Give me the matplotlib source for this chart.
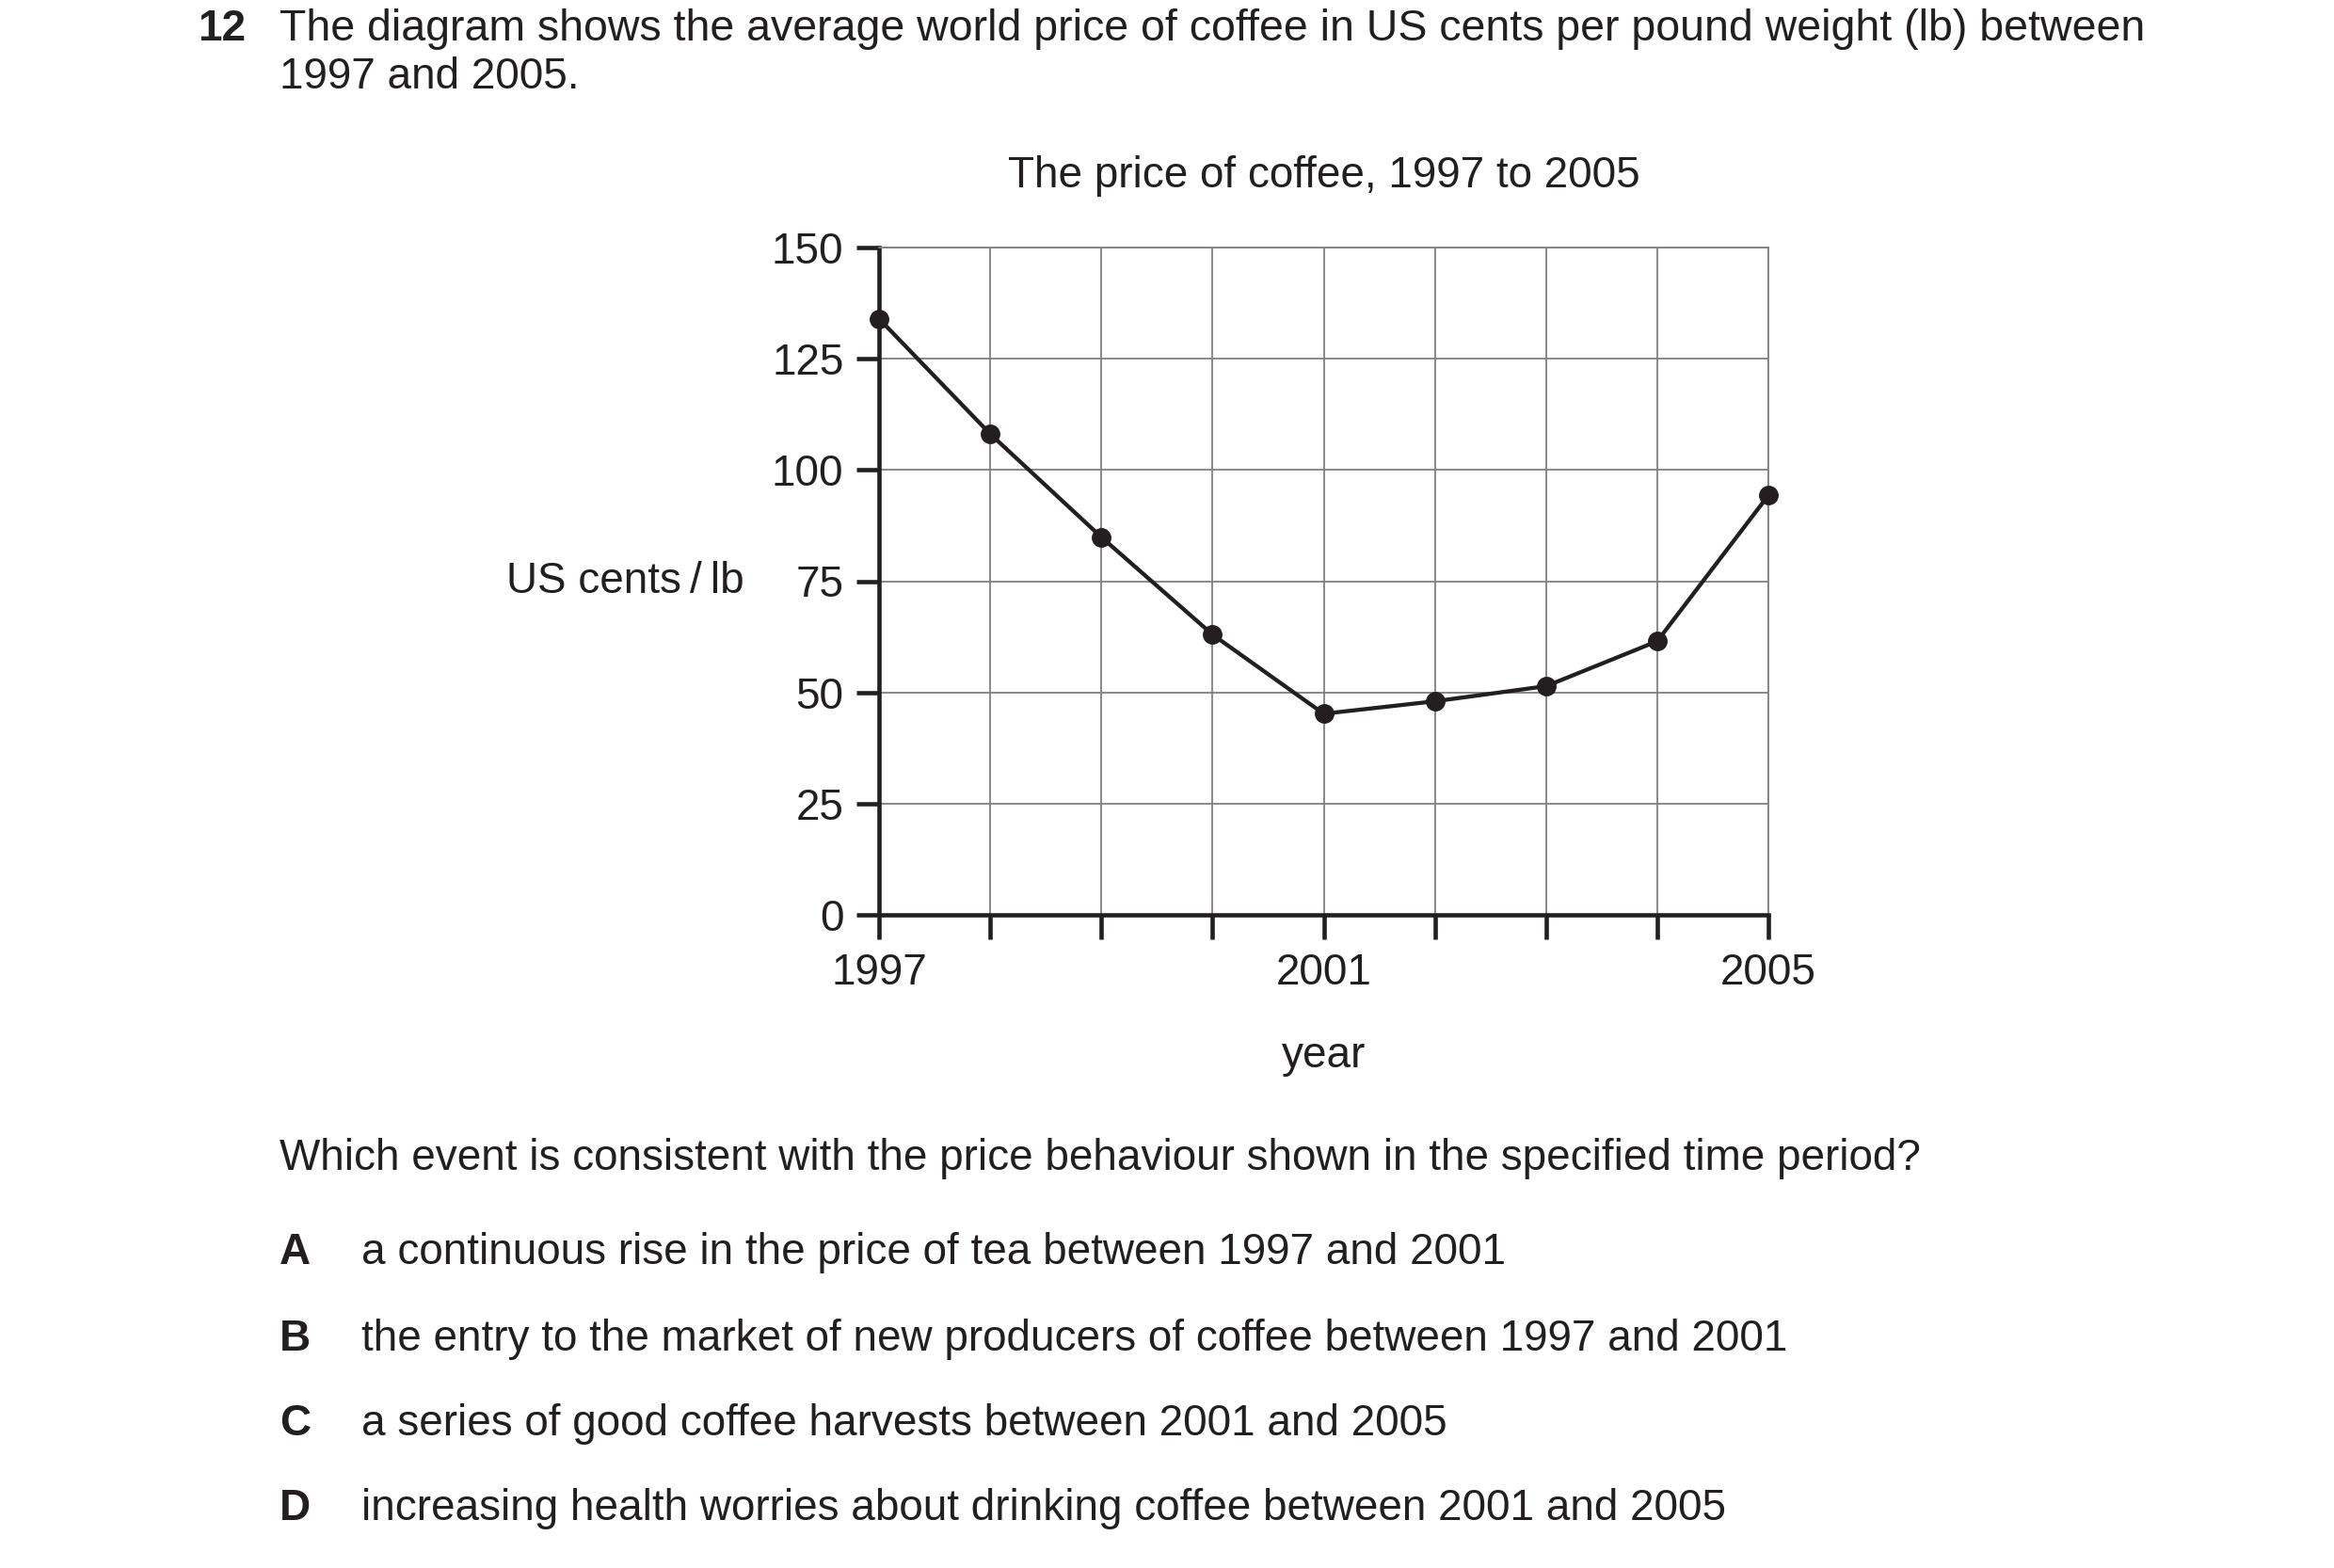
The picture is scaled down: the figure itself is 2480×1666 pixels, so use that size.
import matplotlib
matplotlib.use('Agg')
import matplotlib.pyplot as plt

# data
years = [1997, 1998, 1999, 2000, 2001, 2002, 2003, 2004, 2005]
price = [134.0, 108.1, 84.9, 63.0, 45.2, 48.0, 51.4, 61.5, 94.3]
year_labels = ['1997', '', '', '', '2001', '', '', '', '2005']
price_ticks = [0, 25, 50, 75, 100, 125, 150]

question = ('The diagram shows the average world price of coffee in US cents per pound weight (lb) between',
            '1997 and 2005.')
prompt = 'Which event is consistent with the price behaviour shown in the specified time period?'
options = ['A', 'B', 'C', 'D']
answers = ['a continuous rise in the price of tea between 1997 and 2001',
           'the entry to the market of new producers of coffee between 1997 and 2001',
           'a series of good coffee harvests between 2001 and 2005',
           'increasing health worries about drinking coffee between 2001 and 2005']

plt.rcParams['font.family'] = ['Liberation Sans', 'DejaVu Sans']
ink = '#231f20'
fs = 33

W, H = 2480, 1666
fig = plt.figure(figsize=(W / 100, H / 100), dpi=100)

def fx(px):
    return px / W

def fy(py):
    return 1 - py / H

# axes box in pixels: left 934, right 1879, top 263, bottom 972
ax = fig.add_axes([fx(934), fy(972), fx(1879) - fx(934), fy(263) - fy(972)])

ax.plot(years, price, color=ink, linewidth=3.1, marker='o', markersize=14,
        clip_on=False, zorder=5)

ax.set_xlim(1997, 2005)
ax.set_ylim(0, 150)
ax.set_xticks(years)
ax.set_xticklabels(year_labels)
ax.set_yticks(price_ticks)
ax.grid(True, color='#808080', linewidth=1.3, zorder=0)

for side in ['left', 'bottom']:
    ax.spines[side].set_color(ink)
    ax.spines[side].set_linewidth(3.3)
for side in ['top', 'right']:
    ax.spines[side].set_color('#808080')
    ax.spines[side].set_linewidth(1.3)

ax.tick_params(axis='x', direction='out', length=19, width=3.3, color=ink,
               labelsize=fs, labelcolor=ink, pad=10)
ax.tick_params(axis='y', direction='out', length=17, width=3.3, color=ink,
               labelsize=fs, labelcolor=ink, pad=10)

ax.set_title('The price of coffee, 1997 to 2005', fontsize=fs, color=ink, pad=46)

ax.set_xlabel('year', fontsize=fs, color=ink, va='center')
ax.xaxis.set_label_coords(0.5, -0.212)
ax.set_ylabel('US cents\u2009/\u2009lb', fontsize=fs, color=ink, rotation=0,
              ha='right', va='center')
ax.yaxis.set_label_coords(-0.152, 0.5)

# question text around the chart
fig.text(fx(210), fy(43), '12', fontsize=fs, fontweight='bold', color=ink, va='baseline')
fig.text(fx(297), fy(43), question[0], fontsize=fs + 0.5, color=ink, va='baseline')
fig.text(fx(297), fy(94), question[1], fontsize=fs, color=ink, va='baseline')
fig.text(fx(297), fy(1243), prompt, fontsize=fs, color=ink, va='baseline')

rows = [1343, 1435, 1525, 1615]
for letter, text, row in zip(options, answers, rows):
    fig.text(fx(297), fy(row), letter, fontsize=fs, fontweight='bold', color=ink, va='baseline')
    fig.text(fx(384), fy(row), text, fontsize=fs, color=ink, va='baseline')

fig.savefig('out.png', dpi=100)
